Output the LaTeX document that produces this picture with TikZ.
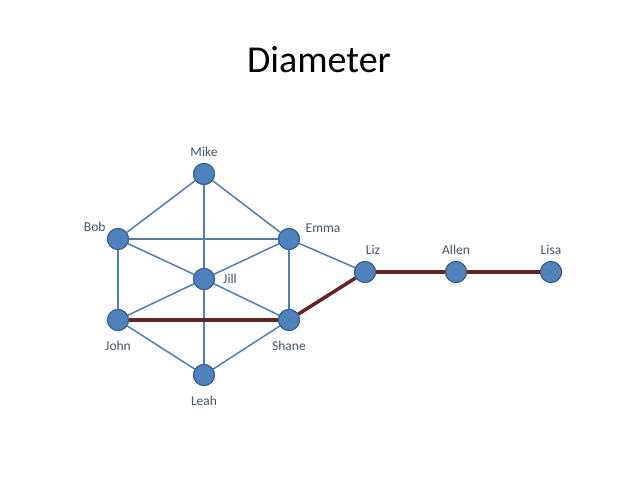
\documentclass[tikz,border=0pt]{standalone}
\usepackage{fontspec}
\setmainfont{Carlito}
\usepackage{tikz}
\usetikzlibrary{positioning}

\definecolor{vertexblue}{RGB}{79,129,189}
\definecolor{vertexline}{RGB}{56,93,138}
\definecolor{edgeblue}{RGB}{84,125,175}
\definecolor{pathred}{RGB}{99,36,35}
\definecolor{labelgray}{RGB}{68,84,106}

\begin{document}
\begin{tikzpicture}[
    x=1pt, y=-1pt,
    every label/.style = {font=\fontsize{13.5}{15}\selectfont, text=labelgray, inner sep=1pt},
    vertex/.style = {
        circle,
        fill=vertexblue,
        draw=vertexline,
        line width=1pt,
        minimum size=21pt,
        inner sep=0pt
    },
    edge/.style = {
        draw=edgeblue,
        line width=1.5pt
    },
    diam/.style = {
        draw=pathred,
        line width=3.5pt
    }
]

\useasboundingbox[fill=white] (0,0) rectangle (638,479);

\node[font=\fontsize{38}{44}\selectfont] (title) at (319,60) {Diameter};

\node[vertex, label={[label distance=5pt]above:Mike}] (mike) at (204,174) {};
\node[vertex, label={[label distance=2pt]150:Bob}] (bob) at (118,239) {};
\node[vertex, label={[xshift=6pt]30:Emma}] (emma) at (289,239) {};
\node[vertex, label={[label distance=7pt]right:Jill}] (jill) at (204,279) {};
\node[vertex, label={[label distance=9pt]below:John}] (john) at (118,320) {};
\node[vertex, label={[label distance=9pt]below:Shane}] (shane) at (289,320) {};
\node[vertex, label={[label distance=9pt]below:Leah}] (leah) at (204,375) {};
\node[vertex, label={[label distance=5pt, xshift=8pt]above:Liz}] (liz) at (365,272) {};
\node[vertex, label={[label distance=5pt]above:Allen}] (allen) at (456,272) {};
\node[vertex, label={[label distance=5pt]above:Lisa}] (lisa) at (551,272) {};

% ordinary edges
\draw[edge] (mike) -- (bob);
\draw[edge] (mike) -- (emma);
\draw[edge] (mike) -- (jill);
\draw[edge] (jill) -- (leah);
\draw[edge] (bob) -- (emma);
\draw[edge] (bob) -- (jill);
\draw[edge] (bob) -- (john);
\draw[edge] (emma) -- (jill);
\draw[edge] (emma) -- (shane);
\draw[edge] (emma) -- (liz);
\draw[edge] (jill) -- (john);
\draw[edge] (jill) -- (shane);
\draw[edge] (john) -- (leah);
\draw[edge] (shane) -- (leah);

% diameter path
\draw[diam] (john) -- (shane);
\draw[diam] (shane) -- (liz);
\draw[diam] (liz) -- (allen);
\draw[diam] (allen) -- (lisa);

% redraw vertices on top
\foreach \v in {mike,bob,emma,jill,john,shane,leah,liz,allen,lisa}
    \node[vertex] at (\v) {};

\end{tikzpicture}
\end{document}
